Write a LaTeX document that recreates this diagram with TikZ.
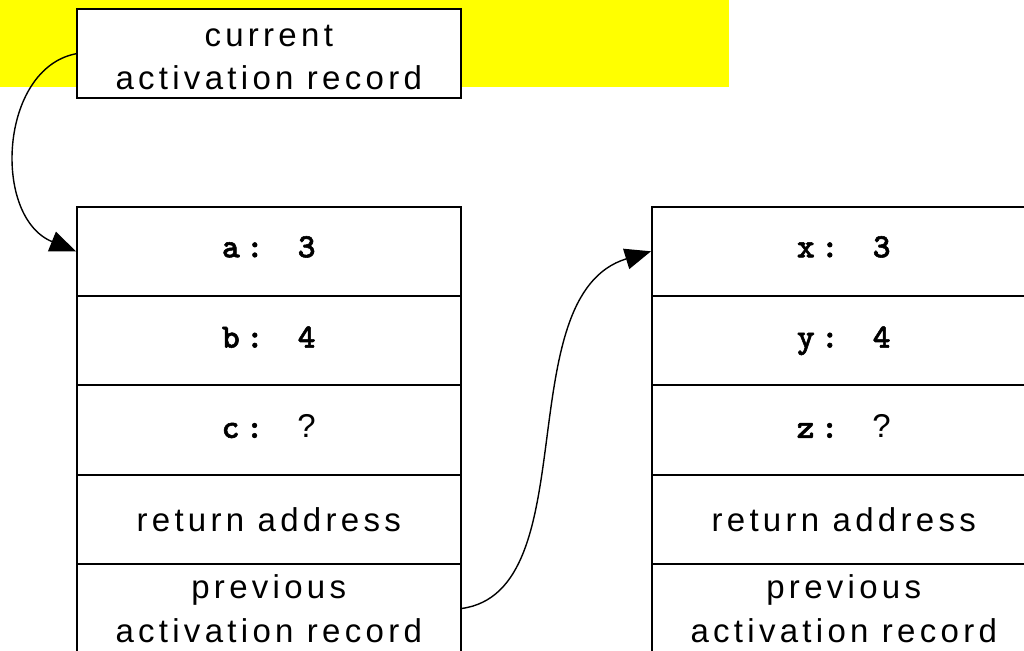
\documentclass[tikz,border=0pt]{standalone}
\usepackage{fontspec}
\setmainfont{Liberation Sans}[LetterSpace=13]
\newfontfamily\monob{lmmonolt10-bold}[Extension=.otf, LetterSpace=18, FakeBold=1.6]
\usetikzlibrary{arrows.meta}
\definecolor{bgyellow}{RGB}{255,255,0}
\tikzset{
  cell/.style={draw=black, line width=2pt, fill=white, rectangle, inner sep=0pt,
    minimum width=383.5pt, minimum height=89.3pt},
  txt/.style={inner sep=0pt, anchor=base, font=\fontsize{33}{40}\selectfont},
  mtxt/.style={inner sep=0pt, anchor=base, font=\fontsize{34}{40}\selectfont},
  conn/.style={draw=black, line width=1.4pt, -{Triangle[length=26pt,width=21pt]}}
}
\newcommand\fieldval[2]{{\monob #1: \kern2pt}#2}
\begin{document}
\begin{tikzpicture}[x=1pt,y=-1pt]
\useasboundingbox (0,0) rectangle (1024,650);
\clip (0,0) rectangle (1024,650);
\fill[bgyellow] (0,0) rectangle (729,87);
% top box
\node[cell, minimum height=89.5pt] (top) at (268.75,53.75) {};
\node[txt] (topA) at (268.75,46.7) {current};
\node[txt] (topB) at (268.75,90) {activation record};
% left stack
\node[cell] (l1) at (268.75,251.3) {};
\node[cell] (l2) at (268.75,340.6) {};
\node[cell] (l3) at (268.75,429.9) {};
\node[cell] (l4) at (268.75,519.2) {};
\node[cell] (l5) at (268.75,608.5) {};
\node[mtxt] (la) at ([yshift=-6pt]l1.center) {\fieldval{a}{\monob 3}};
\node[mtxt] (lb) at ([yshift=-7pt]l2.center) {\fieldval{b}{\monob 4}};
\node[mtxt] (lc) at ([yshift=-8pt]l3.center) {\fieldval{c}{\fontsize{33}{40}\selectfont ?}};
\node[txt] (lr) at ([yshift=-12pt]l4.center) {return address};
\node[txt] (lp1) at (268.75,598) {previous};
\node[txt] (lp2) at (268.75,642) {activation record};
% right stack
\node[cell] (r1) at (843.75,251.3) {};
\node[cell] (r2) at (843.75,340.6) {};
\node[cell] (r3) at (843.75,429.9) {};
\node[cell] (r4) at (843.75,519.2) {};
\node[cell] (r5) at (843.75,608.5) {};
\node[mtxt] (rx) at ([yshift=-6pt]r1.center) {\fieldval{x}{\monob 3}};
\node[mtxt] (ry) at ([yshift=-7pt]r2.center) {\fieldval{y}{\monob 4}};
\node[mtxt] (rz) at ([yshift=-8pt]r3.center) {\fieldval{z}{\fontsize{33}{40}\selectfont ?}};
\node[txt] (rr) at ([yshift=-12pt]r4.center) {return address};
\node[txt] (rp1) at (843.75,598) {previous};
\node[txt] (rp2) at (843.75,642) {activation record};
% connectors
\draw[conn] (top.west) .. controls +(-77,15) and +(-84,-34) .. (l1.west);
\draw[conn] (l5.east) .. controls +(126,-17) and +(-144,44) .. (r1.west);
\end{tikzpicture}
\end{document}
